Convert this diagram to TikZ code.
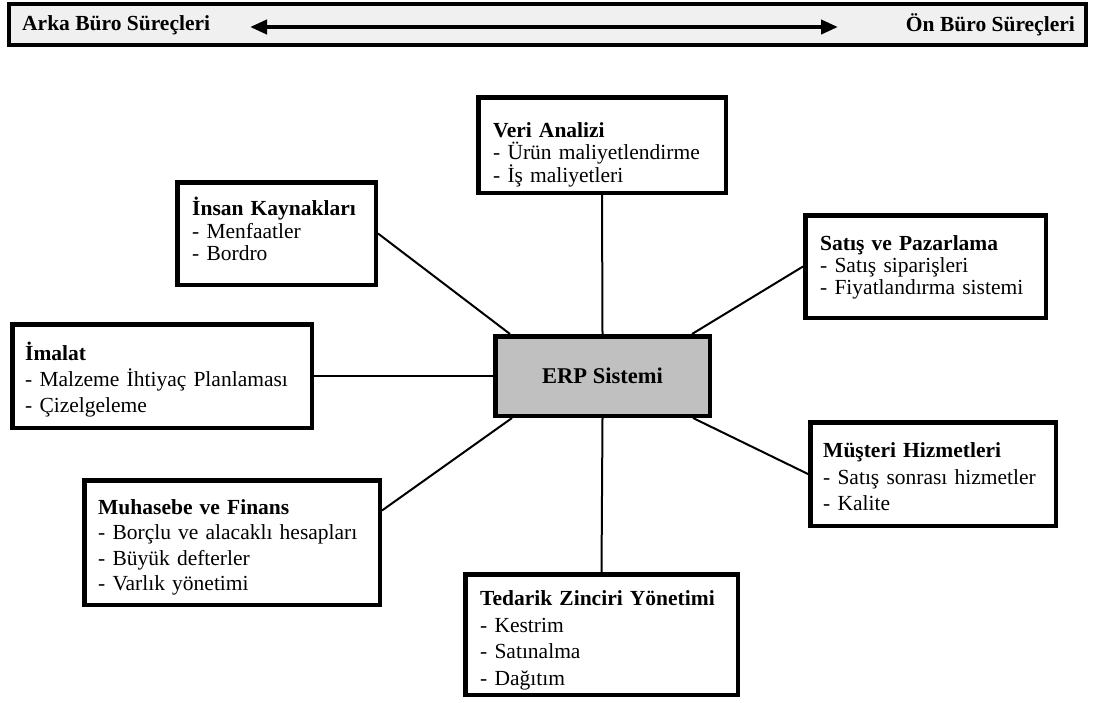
\documentclass[tikz,border=0pt]{standalone}
\usepackage{fontspec}
\setmainfont{Liberation Serif}
\usetikzlibrary{arrows.meta}
\definecolor{barfill}{HTML}{F0F0F0}
\definecolor{erpfill}{HTML}{C0C0C0}
\begin{document}
\begin{tikzpicture}[x=1pt,y=-1pt,
  box/.style={draw, line width=4.5pt, fill=white, inner sep=0pt},
  txt/.style={anchor=base west, align=left, text width=300pt, inner sep=0pt},
  link/.style={line width=2pt},
  lbl/.style={font=\fontsize{21.5}{24}\selectfont\bfseries, inner sep=0pt}]
\useasboundingbox (0,0) rectangle (1094,702);
% top bar
\node[draw, line width=4pt, fill=barfill, minimum width=1077pt, minimum height=41pt, inner sep=0pt] (bar) at (547.5,24.5) {};
\node[lbl, anchor=west] (arka) at (22,25) {Arka Büro Süreçleri};
\node[lbl, anchor=east] (on) at (1075,25) {Ön Büro Süreçleri};
\coordinate (al) at (250,27);
\coordinate (ar) at (838,27);
\draw[line width=4pt, {Triangle[length=17pt,width=14pt]}-{Triangle[length=17pt,width=14pt]}] (al) -- (ar);
% boxes
\node[box, minimum width=247.5pt, minimum height=95.5pt] (veri) at (602,145) {};
\node[txt, font=\fontsize{21.5}{21.5}\selectfont] (veriT) at (493,137.5)
  {\textbf{Veri Analizi}\\- Ürün maliyetlendirme\\- İş maliyetleri};
\node[box, minimum width=198.5pt, minimum height=102.5pt] (ins) at (276.5,233.5) {};
\node[txt, font=\fontsize{21.5}{22.5}\selectfont] (insT) at (192,215.5)
  {\textbf{İnsan Kaynakları}\\- Menfaatler\\- Bordro};
\node[box, minimum width=240.5pt, minimum height=102.5pt] (sat) at (925.5,266.5) {};
\node[txt, font=\fontsize{21.5}{22}\selectfont] (satT) at (820,250.5)
  {\textbf{Satış ve Pazarlama}\\- Satış siparişleri\\- Fiyatlandırma sistemi};
\node[box, minimum width=299.5pt, minimum height=103.5pt] (ima) at (162,376) {};
\node[txt, font=\fontsize{21.5}{26}\selectfont] (imaT) at (25,360.5)
  {\textbf{İmalat}\\- Malzeme İhtiyaç Planlaması\\- Çizelgeleme};
\node[draw, line width=4.5pt, fill=erpfill, minimum width=214.5pt, minimum height=79.5pt, inner sep=0pt, font=\fontsize{22.5}{24}\selectfont\bfseries] (erp) at (602.5,376) {ERP Sistemi};
\node[box, minimum width=245.5pt, minimum height=103.5pt] (mus) at (933,474) {};
\node[txt, font=\fontsize{21.5}{26.5}\selectfont] (musT) at (823,457.5)
  {\textbf{Müşteri Hizmetleri}\\- Satış sonrası hizmetler\\- Kalite};
\node[box, minimum width=295.5pt, minimum height=124.5pt] (muh) at (232,542.5) {};
\node[txt, font=\fontsize{21.5}{25.3}\selectfont] (muhT) at (98,514.5)
  {\textbf{Muhasebe ve Finans}\\- Borçlu ve alacaklı hesapları\\- Büyük defterler\\- Varlık yönetimi};
\node[box, minimum width=272.5pt, minimum height=120.5pt] (ted) at (601.5,634.5) {};
\node[txt, font=\fontsize{21.5}{26.7}\selectfont] (tedT) at (480,605.5)
  {\textbf{Tedarik Zinciri Yönetimi}\\- Kestrim\\- Satınalma\\- Dağıtım};
% connectors
\draw[link] (veri.south) -- (erp.north);
\draw[link] (ins.east) -- ([xshift=17pt]erp.north west);
\draw[link] (sat.west) -- ([xshift=-20pt]erp.north east);
\draw[link] (ima.east) -- (erp.west);
\draw[link] ([xshift=-19pt]erp.south east) -- (mus.west);
\draw[link] ([yshift=32pt]muh.east) -- ([xshift=19pt]erp.south west);
\draw[link] (erp.south) -- (ted.north);
\end{tikzpicture}
\end{document}
